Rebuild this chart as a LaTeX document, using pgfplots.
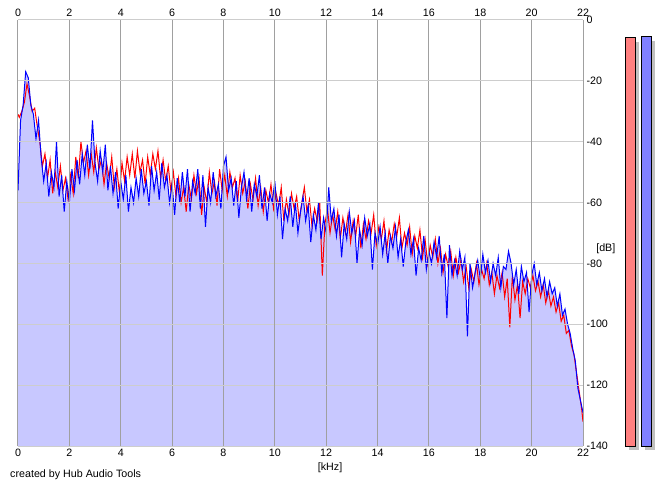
\documentclass[border=0pt]{standalone}
\usepackage{fontspec}
\setmainfont{Liberation Sans}
\usepackage{pgfplots}
\usepackage{pgfplotstable}
\pgfplotsset{compat=1.18}
\definecolor{fillc}{RGB}{200,200,255}
\definecolor{gridv}{RGB}{160,160,160}
\definecolor{gridvd}{RGB}{128,128,128}
\definecolor{gridh}{RGB}{205,205,205}
\definecolor{redbar}{RGB}{255,128,128}
\definecolor{bluebar}{RGB}{128,128,255}
\definecolor{shadow}{RGB}{192,192,192}
\pgfplotstableread{
f v
0.0 -56
0.1 -33
0.2 -28
0.3 -17
0.4 -19
0.5 -28
0.6 -31
0.7 -39
0.8 -33
0.9 -45
1.0 -53
1.1 -47
1.2 -58
1.3 -50
1.4 -55
1.5 -40
1.6 -58
1.7 -51
1.8 -63
1.9 -53
2.0 -60
2.1 -49
2.2 -56
2.3 -46
2.4 -54
2.5 -44
2.6 -51
2.7 -41
2.8 -49
2.9 -33
3.0 -47
3.1 -53
3.2 -43
3.3 -50
3.4 -41
3.5 -56
3.6 -48
3.7 -57
3.8 -50
3.9 -62
4.0 -53
4.1 -59
4.2 -51
4.3 -63
4.4 -55
4.5 -60
4.6 -52
4.7 -58
4.8 -49
4.9 -57
5.0 -53
5.1 -61
5.2 -48
5.3 -56
5.4 -50
5.5 -59
5.6 -47
5.7 -55
5.8 -51
5.9 -60
6.0 -54
6.1 -64
6.2 -52
6.3 -60
6.4 -50
6.5 -58
6.6 -49
6.7 -63
6.8 -53
6.9 -57
7.0 -49
7.1 -62
7.2 -51
7.3 -68
7.4 -55
7.5 -60
7.6 -50
7.7 -58
7.8 -54
7.9 -62
8.0 -48
8.1 -45
8.2 -56
8.3 -52
8.4 -61
8.5 -53
8.6 -65
8.7 -55
8.8 -50
8.9 -59
9.0 -52
9.1 -63
9.2 -54
9.3 -58
9.4 -51
9.5 -62
9.6 -55
9.7 -66
9.8 -57
9.9 -60
10.0 -53
10.1 -64
10.2 -58
10.3 -72
10.4 -62
10.5 -66
10.6 -58
10.7 -68
10.8 -60
10.9 -70
11.0 -63
11.1 -58
11.2 -66
11.3 -61
11.4 -73
11.5 -64
11.6 -69
11.7 -60
11.8 -72
11.9 -65
12.0 -70
12.1 -55
12.2 -66
12.3 -62
12.4 -71
12.5 -64
12.6 -78
12.7 -67
12.8 -72
12.9 -63
13.0 -70
13.1 -66
13.2 -80
13.3 -69
13.4 -74
13.5 -65
13.6 -71
13.7 -67
13.8 -82
13.9 -70
14.0 -74
14.1 -68
14.2 -77
14.3 -70
14.4 -80
14.5 -71
14.6 -75
14.7 -68
14.8 -78
14.9 -72
15.0 -81
15.1 -73
15.2 -69
15.3 -77
15.4 -72
15.5 -84
15.6 -75
15.7 -79
15.8 -71
15.9 -82
16.0 -76
16.1 -80
16.2 -73
16.3 -78
16.4 -71
16.5 -83
16.6 -77
16.7 -98
16.8 -74
16.9 -84
17.0 -79
17.1 -84
17.2 -76
17.3 -82
17.4 -78
17.5 -104
17.6 -80
17.7 -88
17.8 -83
17.9 -79
18.0 -85
18.1 -77
18.2 -83
18.3 -79
18.4 -86
18.5 -80
18.6 -84
18.7 -78
18.8 -88
18.9 -81
19.0 -82
19.1 -76
19.2 -80
19.3 -87
19.4 -82
19.5 -90
19.6 -81
19.7 -86
19.8 -83
19.9 -96
20.0 -84
20.1 -80
20.2 -87
20.3 -83
20.4 -89
20.5 -85
20.6 -91
20.7 -86
20.8 -90
20.9 -88
21.0 -94
21.1 -90
21.2 -97
21.3 -95
21.4 -100
21.5 -103
21.6 -108
21.7 -112
21.8 -121
21.9 -125
22.0 -129
}\blue
\pgfplotstableread{
f v
0.0 -31
0.05 -32
0.15 -30
0.25 -27
0.35 -21
0.45 -25
0.55 -30
0.65 -29
0.75 -35
0.85 -40
0.95 -48
1.05 -44
1.15 -52
1.25 -46
1.35 -57
1.45 -50
1.55 -55
1.65 -48
1.75 -56
1.85 -52
1.95 -59
2.05 -51
2.15 -57
2.25 -45
2.35 -52
2.45 -40
2.55 -47
2.65 -43
2.75 -51
2.85 -44
2.95 -50
3.05 -42
3.15 -49
3.25 -46
3.35 -54
3.45 -47
3.55 -52
3.65 -45
3.75 -55
3.85 -49
3.95 -57
4.05 -47
4.15 -53
4.25 -45
4.35 -51
4.45 -44
4.55 -52
4.65 -43
4.75 -50
4.85 -46
4.95 -54
5.05 -45
5.15 -51
5.25 -44
5.35 -49
5.45 -43
5.55 -52
5.65 -46
5.75 -53
5.85 -48
5.95 -56
6.05 -50
6.15 -58
6.25 -52
6.35 -60
6.45 -55
6.55 -63
6.65 -54
6.75 -59
6.85 -51
6.95 -57
7.05 -52
7.15 -64
7.25 -55
7.35 -60
7.45 -50
7.55 -57
7.65 -53
7.75 -61
7.85 -49
7.95 -56
8.05 -51
8.15 -58
8.25 -50
8.35 -55
8.45 -52
8.55 -60
8.65 -51
8.75 -57
8.85 -53
8.95 -62
9.05 -54
9.15 -59
9.25 -52
9.35 -61
9.45 -55
9.55 -63
9.65 -56
9.75 -60
9.85 -54
9.95 -62
10.05 -57
10.15 -61
10.25 -55
10.35 -66
10.45 -59
10.55 -64
10.65 -57
10.75 -62
10.85 -58
10.95 -66
11.05 -60
11.15 -55
11.25 -63
11.35 -59
11.45 -68
11.55 -62
11.65 -66
11.75 -60
11.85 -84
11.95 -67
12.05 -62
12.15 -70
12.25 -64
12.35 -69
12.45 -63
12.55 -72
12.65 -65
12.75 -70
12.85 -64
12.95 -73
13.05 -66
13.15 -71
13.25 -64
13.35 -75
13.45 -67
13.55 -72
13.65 -66
13.75 -70
13.85 -64
13.95 -74
14.05 -68
14.15 -72
14.25 -66
14.35 -76
14.45 -69
14.55 -73
14.65 -67
14.75 -71
14.85 -65
14.95 -75
15.05 -70
15.15 -74
15.25 -68
15.35 -77
15.45 -71
15.55 -75
15.65 -69
15.75 -78
15.85 -72
15.95 -80
16.05 -74
16.15 -78
16.25 -72
16.35 -80
16.45 -75
16.55 -83
16.65 -77
16.75 -81
16.85 -76
16.95 -84
17.05 -78
17.15 -83
17.25 -79
17.35 -86
17.45 -81
17.55 -88
17.65 -82
17.75 -86
17.85 -80
17.95 -87
18.05 -82
18.15 -85
18.25 -80
18.35 -87
18.45 -83
18.55 -90
18.65 -84
18.75 -88
18.85 -83
18.95 -91
19.05 -85
19.15 -101
19.25 -84
19.35 -92
19.45 -87
19.55 -98
19.65 -86
19.75 -90
19.85 -85
19.95 -88
20.05 -84
20.15 -89
20.25 -86
20.35 -91
20.45 -87
20.55 -93
20.65 -89
20.75 -94
20.85 -91
20.95 -96
21.05 -93
21.15 -99
21.25 -97
21.35 -103
21.45 -102
21.55 -107
21.65 -110
21.75 -116
21.85 -122
21.95 -128
22.0 -132
}\red
\newcommand\lbl{\fontsize{10.7bp}{12.8bp}\selectfont}
\begin{document}
\begin{tikzpicture}
\path[use as bounding box] (-18bp,-41bp) rectangle (647bp,446bp);
\begin{axis}[
  at={(0,0)}, anchor=south west,
  scale only axis, width=565bp, height=426bp,
  xmin=0, xmax=22, ymin=-140, ymax=0,
  clip=false,
  axis on top,
  axis line style={draw=none},
  major tick length=0pt,
  tick style={draw=none},
  xtick={0,2,...,22},
  xticklabels={0,2,4,6,8,10,12,14,16,18,20,22},
  ytick={-140,-120,...,0},
  yticklabels={{-140},{-120},{-100},{-80},{-60},{-40},{-20},0},
  yticklabel pos=right,
  tick label style={font=\lbl},
  /pgf/number format/assume math mode=true,
  grid=major,
  x grid style={draw=gridv, line width=1bp},
  y grid style={draw=gridh, line width=1bp},
  extra x ticks={0,10,20},
  extra x tick labels={},
  extra x tick style={grid=major, major grid style={draw=gridvd, line width=2bp}},
]
\addplot[fill=fillc, draw=none] table[x=f,y=v]{\blue} -- (axis cs:22,-140) -- (axis cs:0,-140) -- cycle;
\addplot[color=red, line width=1bp] table[x=f,y=v]{\red};
\addplot[color=blue, line width=1bp] table[x=f,y=v]{\blue};
% level meters
\addplot[fill=shadow, draw=none] coordinates {(23.79,-141.31) (24.18,-141.31) (24.18,-7.13) (23.79,-7.13)} -- cycle;
\addplot[fill=shadow, draw=none] coordinates {(24.42,-141.31) (24.81,-141.31) (24.81,-6.8) (24.42,-6.8)} -- cycle;
\addplot[fill=redbar, draw=black, line width=1bp] coordinates {(23.637,-140) (24.027,-140) (24.027,-5.82) (23.637,-5.82)} -- cycle;
\addplot[fill=bluebar, draw=black, line width=1bp] coordinates {(24.26,-140) (24.65,-140) (24.65,-5.49) (24.26,-5.49)} -- cycle;
\node[anchor=west, font=\lbl, inner sep=0pt] at (axis cs:22.51,-75.3) {[dB]};
\node[anchor=center, font=\lbl, inner sep=0pt] at (axis cs:12.15,-147.2) {[kHz]};
\node[anchor=west, font=\lbl, inner sep=0pt] at (axis cs:-0.31,-149.6) {created by Hub Audio Tools};
\end{axis}
\begin{axis}[
  at={(0,0)}, anchor=south west,
  scale only axis, width=565bp, height=426bp,
  xmin=0, xmax=22, ymin=-140, ymax=0,
  axis line style={draw=none},
  major tick length=0pt,
  tick style={draw=none},
  xtick={0,2,...,22},
  xticklabels={0,2,4,6,8,10,12,14,16,18,20,22},
  xticklabel pos=right,
  ytick=\empty,
  tick label style={font=\lbl},
]
\addplot[draw=none] coordinates {(0,-140) (22,0)};
\end{axis}
\end{tikzpicture}
\end{document}
